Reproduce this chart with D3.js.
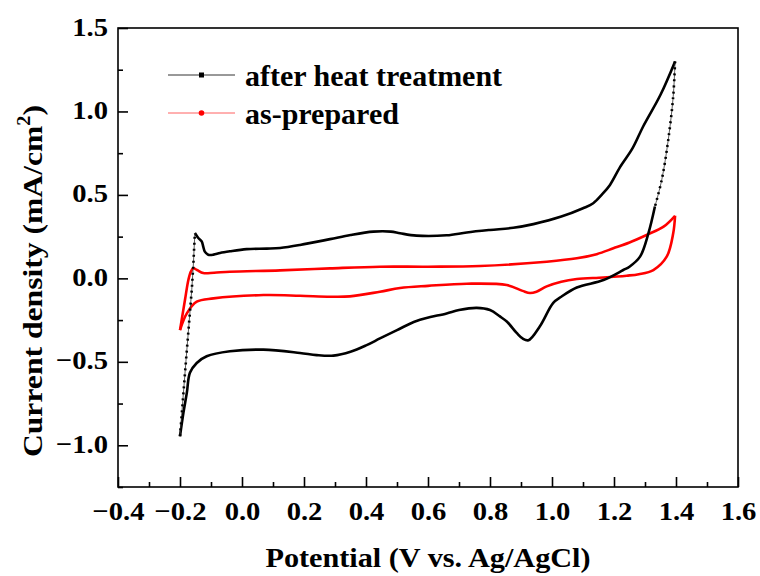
<!DOCTYPE html>
<html lang="en">
<head>
<meta charset="UTF-8">
<title>CV curves</title>
<script src="https://d3js.org/d3.v7.min.js"></script>
<style>
  body { margin: 0; background: #fff; }
  svg text { font-family: "Liberation Serif", "Times New Roman", serif; font-weight: bold; fill: #000; }
</style>
</head>
<body>
<div id="chart"></div>
<script>
// Data, [potential V, current mA/cm2], in scan order

// after heat treatment: fast (sparse-point) rise at -0.2 V
const heatRise = [[-0.2, -0.946], [-0.181, -0.5], [-0.162, -0.068], [-0.157, 0.08], [-0.152, 0.272]];
// anodic sweep
const heatAnodic = [
  [-0.152, 0.272], [-0.141, 0.242], [-0.13, 0.222], [-0.125, 0.19], [-0.12, 0.16], [-0.109, 0.142],
  [-0.092, 0.142], [-0.071, 0.152], [-0.039, 0.162], [0.015, 0.175], [0.08, 0.178], [0.123, 0.182],
  [0.187, 0.20], [0.284, 0.235], [0.35, 0.26], [0.424, 0.28], [0.48, 0.28], [0.51, 0.27],
  [0.563, 0.256], [0.66, 0.258], [0.725, 0.275], [0.80, 0.29], [0.875, 0.303], [0.94, 0.325],
  [1.03, 0.37], [1.10, 0.42], [1.133, 0.45], [1.16, 0.50], [1.187, 0.56], [1.219, 0.665],
  [1.26, 0.78], [1.294, 0.91], [1.35, 1.10], [1.397, 1.30]
];
// fast (sparse-point) fall after the vertex
const heatFall = [[1.397, 1.30], [1.391, 1.09], [1.375, 0.83], [1.354, 0.59], [1.332, 0.43]];
// cathodic sweep
const heatCathodic = [
  [1.332, 0.43], [1.311, 0.27], [1.284, 0.13], [1.25, 0.07], [1.23, 0.05], [1.166, -0.01],
  [1.08, -0.055], [1.03, -0.11], [1.004, -0.147],
  [0.961, -0.287], [0.924, -0.371], [0.905, -0.36], [0.886, -0.327], [0.855, -0.26], [0.832, -0.228],
  [0.80, -0.19], [0.757, -0.177], [0.70, -0.19], [0.66, -0.21], [0.563, -0.255], [0.50, -0.31],
  [0.445, -0.36], [0.402, -0.40], [0.35, -0.44], [0.295, -0.463], [0.241, -0.46], [0.187, -0.447],
  [0.069, -0.427], [-0.039, -0.437], [-0.114, -0.467], [-0.146, -0.507], [-0.168, -0.566],
  [-0.178, -0.686], [-0.189, -0.806], [-0.2, -0.946]
];

// as-prepared
const prepAnodic = [
  [-0.2, -0.31], [-0.192, -0.22], [-0.184, -0.13], [-0.173, -0.01], [-0.165, 0.04], [-0.157, 0.06],
  [-0.145, 0.05], [-0.125, 0.032], [-0.09, 0.034], [-0.039, 0.04], [0.123, 0.048], [0.284, 0.06],
  [0.445, 0.07], [0.6, 0.07], [0.768, 0.074], [0.983, 0.10], [1.08, 0.12], [1.144, 0.145],
  [1.198, 0.18], [1.25, 0.215], [1.305, 0.26], [1.36, 0.31], [1.397, 0.375]
];
const prepCathodic = [
  [1.397, 0.375], [1.391, 0.27], [1.37, 0.13], [1.327, 0.05], [1.28, 0.025], [1.241, 0.016],
  [1.166, 0.005], [1.08, -0.004], [1.03, -0.02], [0.983, -0.048], [0.95, -0.08], [0.929, -0.088],
  [0.905, -0.075], [0.854, -0.04], [0.725, -0.032], [0.6, -0.045], [0.51, -0.058], [0.445, -0.08],
  [0.348, -0.108], [0.284, -0.11], [0.187, -0.104], [0.069, -0.10], [-0.092, -0.12], [-0.146, -0.14],
  [-0.178, -0.21], [-0.2, -0.31]
];

const xTicks = [-0.4, -0.2, 0.0, 0.2, 0.4, 0.6, 0.8, 1.0, 1.2, 1.4, 1.6];
const yTicks = [-1.0, -0.5, 0.0, 0.5, 1.0, 1.5];
const xMinor = [-0.3, -0.1, 0.1, 0.3, 0.5, 0.7, 0.9, 1.1, 1.3, 1.5];
const yMinor = [-1.25, -0.75, -0.25, 0.25, 0.75, 1.25];
const legendLabels = ["after heat treatment", "as-prepared"];

// Dimensions
const width = 760, height = 576;
const margin = { left: 118, right: 738, top: 28, bottom: 487 };
const tickStretch = 1.1; // tick numbers are drawn slightly wide in the original

const svg = d3.select("#chart").append("svg")
  .attr("width", width)
  .attr("height", height);

const x = d3.scaleLinear().domain([-0.4, 1.6]).range([margin.left, margin.right]);
const y = d3.scaleLinear().domain([-1.25, 1.5]).range([margin.bottom, margin.top]);

const line = d3.line().x(d => x(d[0])).y(d => y(d[1])).curve(d3.curveCatmullRom.alpha(0.5));
const straight = d3.line().x(d => x(d[0])).y(d => y(d[1]));

// frame
svg.append("rect")
  .attr("x", margin.left).attr("y", margin.top)
  .attr("width", margin.right - margin.left).attr("height", margin.bottom - margin.top)
  .attr("fill", "none").attr("stroke", "#000").attr("stroke-width", 1.6);

// bottom axis, ticks pointing in
const xAxis = svg.append("g")
  .attr("transform", `translate(0,${margin.bottom})`)
  .call(d3.axisBottom(x).tickValues(xTicks).tickSize(-10).tickFormat(d3.format(".1f")));
xAxis.append("g")
  .call(d3.axisBottom(x).tickValues(xMinor).tickSize(-5).tickFormat(""));
xAxis.selectAll("path.domain").remove();
xAxis.selectAll("line").attr("stroke", "#000").attr("stroke-width", 1.6);
xAxis.selectAll(".tick text")
  .attr("y", 33).attr("dy", 0)
  .attr("transform", `scale(${tickStretch},1)`)
  .style("font-size", "26px");

// left axis
const yAxis = svg.append("g")
  .attr("transform", `translate(${margin.left},0)`)
  .call(d3.axisLeft(y).tickValues(yTicks).tickSize(-10).tickFormat(d3.format(".1f")));
yAxis.append("g")
  .call(d3.axisLeft(y).tickValues(yMinor).tickSize(-5).tickFormat(""));
yAxis.selectAll("path.domain").remove();
yAxis.selectAll("line").attr("stroke", "#000").attr("stroke-width", 1.6);
yAxis.selectAll(".tick text")
  .attr("x", -10 / tickStretch).attr("dy", "0.27em")
  .attr("transform", `scale(${tickStretch},1)`)
  .style("font-size", "26px");

// axis titles
svg.append("text")
  .attr("transform", `translate(${(margin.left + margin.right) / 2},567) scale(1.08,1)`)
  .attr("text-anchor", "middle")
  .style("font-size", "28px")
  .text("Potential (V vs. Ag/AgCl)");

const yTitle = svg.append("text")
  .attr("transform", `translate(42,281) rotate(-90) scale(1.13,1)`)
  .attr("text-anchor", "middle")
  .style("font-size", "28px");
yTitle.append("tspan").text("Current density (mA/cm");
yTitle.append("tspan").attr("dy", -12).style("font-size", "18px").text("2");
yTitle.append("tspan").attr("dy", 12).text(")");

// as-prepared (red)
const plot = svg.append("g");
[prepAnodic, prepCathodic].forEach(seg => {
  plot.append("path").attr("d", line(seg))
    .attr("fill", "none").attr("stroke", "#ff0000").attr("stroke-width", 2.6)
    .attr("stroke-linejoin", "round");
});

// after heat treatment (black): dense parts solid, fast parts thin with point marks
[heatAnodic, heatCathodic].forEach(seg => {
  plot.append("path").attr("d", line(seg))
    .attr("fill", "none").attr("stroke", "#000").attr("stroke-width", 2.6)
    .attr("stroke-linejoin", "round");
});
[[heatRise, straight], [heatFall, line]].forEach(([seg, gen]) => {
  plot.append("path").attr("d", gen(seg))
    .attr("fill", "none").attr("stroke", "#333").attr("stroke-width", 0.8);
  plot.append("path").attr("d", gen(seg))
    .attr("fill", "none").attr("stroke", "#000").attr("stroke-width", 2.6)
    .attr("stroke-dasharray", "2,4");
});

// legend
const legend = svg.append("g");
const legendY = [75, 113];
const legendColor = ["#000", "#ff0000"];
legendLabels.forEach((label, i) => {
  const g = legend.append("g").attr("transform", `translate(0,${legendY[i]})`);
  g.append("line").attr("x1", 168).attr("x2", 235)
    .attr("stroke", i === 0 ? "#333" : "#ff6060").attr("stroke-width", 1);
  if (i === 0) {
    g.append("rect").attr("x", 199).attr("y", -2.5).attr("width", 5).attr("height", 5).attr("fill", "#000");
  } else {
    g.append("circle").attr("cx", 201.5).attr("r", 2.8).attr("fill", legendColor[i]);
  }
  g.append("text")
    .attr("x", 245).attr("y", 10.5)
    .style("font-size", "30px")
    .text(label);
});
</script>
</body>
</html>
